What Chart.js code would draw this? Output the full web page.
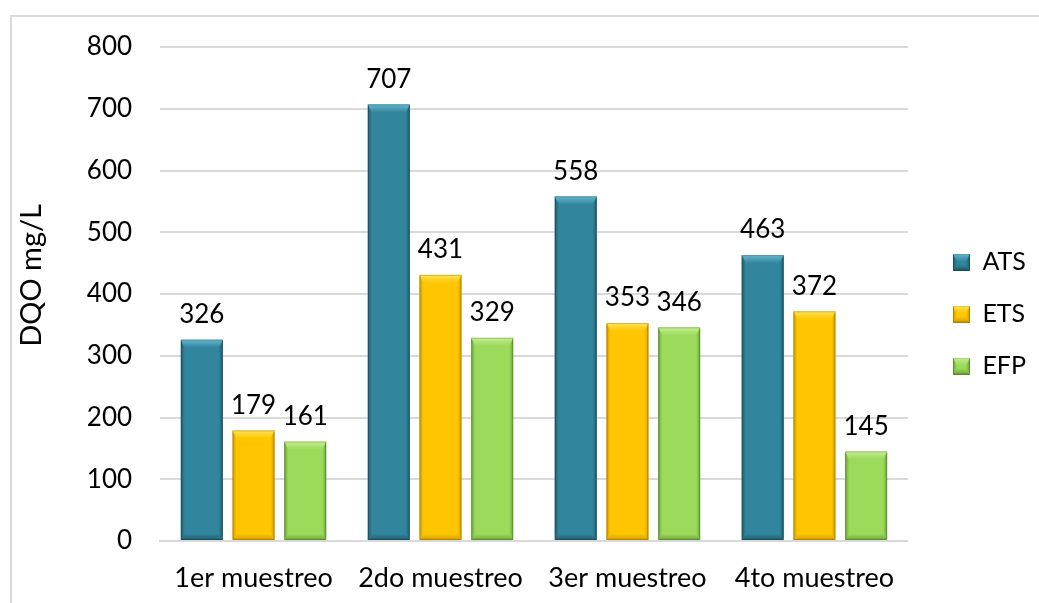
<!DOCTYPE html>
<html>
<head>
<meta charset="utf-8">
<script src="https://cdn.jsdelivr.net/npm/chart.js@4/dist/chart.umd.min.js"></script>
<style>
  html, body { margin: 0; padding: 0; background: #fff; }
  #wrap { position: relative; width: 1039px; height: 603px; overflow: hidden; }
  #frame { position: absolute; left: 10px; top: 15px; width: 1100px; height: 700px;
           border-left: 2px solid #d9d9d9; border-top: 2px solid #d9d9d9; box-sizing: border-box; }
  #chart { position: absolute; left: 0; top: 0; }
</style>
</head>
<body>
<div id="wrap">
  <div id="frame"></div>
  <canvas id="chart" width="1039" height="603"></canvas>
</div>
<script>
// DQO por muestreo
const muestreos = ['1er muestreo', '2do muestreo', '3er muestreo', '4to muestreo'];
const ats = [326, 707, 558, 463];
const ets = [179, 431, 353, 372];
const efp = [161, 329, 346, 145];

// base, light (top bevel), dark (edges)
const palette = {
    ATS: ['#31859c', '#66b8d0', '#1f5d6e'],
    ETS: ['#ffc600', '#ffe35a', '#d29c00'],
    EFP: ['#9bda5a', '#c4ee92', '#6ea63a']
};

const fontFamily = "Lato, 'Open Sans', sans-serif";
const fontSize = 26;
const iconWidth = 35;

// draw a bevelled block (Office style bar look)
function bevel(ctx, left, top, right, bottom, colors) {
    const w = right - left, h = bottom - top;
    const bt = Math.min(8, h / 2), bb = Math.min(6, h / 2), bs = Math.min(4, w / 4);
    ctx.save();
    ctx.fillStyle = colors[0];
    ctx.fillRect(left, top, w, h);
    // left side
    let g = ctx.createLinearGradient(left, 0, left + bs, 0);
    g.addColorStop(0, colors[2]);
    g.addColorStop(1, colors[0]);
    ctx.fillStyle = g;
    ctx.beginPath();
    ctx.moveTo(left, top); ctx.lineTo(left + bs, top + bt);
    ctx.lineTo(left + bs, bottom - bb); ctx.lineTo(left, bottom);
    ctx.closePath(); ctx.fill();
    // right side
    g = ctx.createLinearGradient(right - bs, 0, right, 0);
    g.addColorStop(0, colors[0]);
    g.addColorStop(1, colors[2]);
    ctx.fillStyle = g;
    ctx.beginPath();
    ctx.moveTo(right, top); ctx.lineTo(right - bs, top + bt);
    ctx.lineTo(right - bs, bottom - bb); ctx.lineTo(right, bottom);
    ctx.closePath(); ctx.fill();
    // top
    g = ctx.createLinearGradient(0, top, 0, top + bt);
    g.addColorStop(0, colors[1]);
    g.addColorStop(1, colors[0]);
    ctx.fillStyle = g;
    ctx.beginPath();
    ctx.moveTo(left, top); ctx.lineTo(right, top);
    ctx.lineTo(right - bs, top + bt); ctx.lineTo(left + bs, top + bt);
    ctx.closePath(); ctx.fill();
    // bottom
    g = ctx.createLinearGradient(0, bottom - bb, 0, bottom);
    g.addColorStop(0, colors[0]);
    g.addColorStop(1, colors[2]);
    ctx.fillStyle = g;
    ctx.beginPath();
    ctx.moveTo(left, bottom); ctx.lineTo(right, bottom);
    ctx.lineTo(right - bs, bottom - bb); ctx.lineTo(left + bs, bottom - bb);
    ctx.closePath(); ctx.fill();
    ctx.strokeStyle = 'rgba(0,0,0,0.18)';
    ctx.lineWidth = 1;
    ctx.strokeRect(left + 0.5, top + 0.5, w - 1, h - 1);
    ctx.restore();
}

// legend swatch sits at the right end of a wider transparent icon
function legendIcon(colors) {
    const c = document.createElement('canvas');
    c.width = iconWidth; c.height = 17;
    bevel(c.getContext('2d'), iconWidth - 17, 0, iconWidth, 17, colors);
    return c;
}

const bevelBars = {
    id: 'bevelBars',
    afterDatasetsDraw(chart) {
        const ctx = chart.ctx;
        chart.data.datasets.forEach((ds, i) => {
            const meta = chart.getDatasetMeta(i);
            meta.data.forEach((bar, j) => {
                const p = bar.getProps(['x', 'y', 'base', 'width'], true);
                bevel(ctx, p.x - p.width / 2, p.y, p.x + p.width / 2, p.base, palette[ds.label]);
                ctx.save();
                ctx.fillStyle = '#000';
                ctx.font = fontSize + 'px ' + fontFamily;
                ctx.textAlign = 'center';
                ctx.textBaseline = 'bottom';
                ctx.fillText(ds.data[j], p.x, p.y - 12);
                ctx.restore();
            });
        });
    }
};

const series = [['ATS', ats], ['ETS', ets], ['EFP', efp]];

new Chart(document.getElementById('chart'), {
    type: 'bar',
    data: {
        labels: muestreos,
        datasets: series.map(([name, values]) => ({
            label: name,
            data: values,
            backgroundColor: 'rgba(0,0,0,0)',
            pointStyle: legendIcon(palette[name]),
            categoryPercentage: 0.83,
            barPercentage: 0.81
        }))
    },
    options: {
        responsive: false,
        animation: false,
        layout: { padding: { left: 14, right: 3, top: 47, bottom: 0 } },
        plugins: {
            tooltip: { enabled: false },
            legend: {
                position: 'right',
                fullSize: false,
                // empty title only pushes the entries down a bit
                title: { display: true, text: '', font: { size: 10 }, padding: { top: 0, bottom: 28 } },
                labels: {
                    usePointStyle: true,
                    pointStyleWidth: iconWidth,
                    color: '#000',
                    font: { family: fontFamily, size: 25 },
                    padding: 27
                }
            }
        },
        scales: {
            x: {
                grid: { display: false, drawTicks: false },
                border: { color: '#d9d9d9', width: 2 },
                ticks: { color: '#000', font: { family: fontFamily, size: 27 }, padding: 21, maxRotation: 0 },
                afterFit: (scale) => { scale.height = 62; }
            },
            y: {
                min: 0,
                max: 800,
                grid: { color: '#d9d9d9', lineWidth: 2, drawTicks: false },
                border: { display: false },
                ticks: { stepSize: 100, color: '#000', font: { family: fontFamily, size: fontSize }, padding: 28 },
                title: {
                    display: true,
                    text: '     DQO mg/L',
                    color: '#000',
                    font: { family: fontFamily, size: 29 },
                    padding: { top: 0, bottom: 10 }
                }
            }
        }
    },
    plugins: [bevelBars]
});
</script>
</body>
</html>
